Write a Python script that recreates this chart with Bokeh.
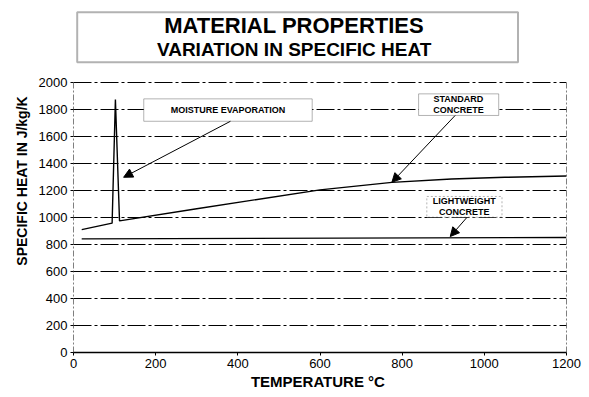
from bokeh.plotting import figure
from bokeh.models import Range1d, FixedTicker, Label, Arrow, NormalHead, BoxAnnotation
from bokeh.embed import file_html
from bokeh.resources import INLINE

# ---- data ----
temp_std = [20, 94, 102, 112, 300, 600, 775, 920, 1050, 1200]
cp_std = [910, 958, 1875, 975, 1065, 1205, 1260, 1285, 1298, 1308]

temp_lw = [20, 1200]
cp_lw = [842, 852]

y_ticks = [0, 200, 400, 600, 800, 1000, 1200, 1400, 1600, 1800, 2000]
x_ticks = [0, 200, 400, 600, 800, 1000, 1200]

title_1 = "MATERIAL PROPERTIES"
title_2 = "VARIATION IN SPECIFIC HEAT"
x_label = "TEMPERATURE  \u00b0C"
y_label = "SPECIFIC HEAT IN J/kg/K"

FONT = "Liberation Sans"

p = figure(width=584, height=393, output_backend="svg", toolbar_location=None,
           x_range=Range1d(0, 1200), y_range=Range1d(0, 2541),
           min_border_left=73, min_border_right=18, min_border_top=9, min_border_bottom=41)
p.outline_line_color = None
p.background_fill_color = "white"
p.border_fill_color = "white"

# axes
p.xaxis.ticker = FixedTicker(ticks=x_ticks)
p.yaxis.ticker = FixedTicker(ticks=y_ticks)
for ax in (p.xaxis[0], p.yaxis[0]):
    ax.major_label_text_font = FONT
    ax.major_label_text_font_size = "13px"
    ax.major_label_text_color = "black"
    ax.axis_label_text_font = FONT
    ax.axis_label_text_font_style = "bold"
    ax.axis_label_text_font_size = "15px"
    ax.axis_label_text_color = "black"
    ax.minor_tick_line_color = None
    ax.major_tick_in = 0
    ax.major_tick_out = 3
    ax.major_tick_line_color = "black"
    ax.major_label_standoff = 3
    ax.axis_label_standoff = 2
p.xaxis.axis_label = x_label
p.yaxis.axis_label = y_label
p.yaxis.axis_label_text_font_size = "14px"
p.yaxis.axis_label_standoff = 6
p.xaxis.axis_line_color = "black"
p.xaxis.axis_line_width = 1.5
p.yaxis.axis_line_color = None

# grid
p.xgrid.grid_line_color = None
p.ygrid.ticker = FixedTicker(ticks=y_ticks[1:])
p.ygrid.grid_line_color = "black"
p.ygrid.grid_line_dash = "18 3 3 3"
p.ygrid.grid_line_width = 1

# left axis line and right border (dash-dot)
p.line([x_ticks[0], x_ticks[0]], [y_ticks[0], y_ticks[-1]], line_color="black",
       line_width=1, line_dash="6 2 2 2")
p.line([x_ticks[-1], x_ticks[-1]], [y_ticks[0], y_ticks[-1]], line_color="black",
       line_width=1, line_dash="6 2 2 2")

# curves
p.line(temp_std, cp_std, line_color="black", line_width=1.4)
p.line(temp_lw, cp_lw, line_color="black", line_width=1.4)

# title box
p.add_layout(BoxAnnotation(left=9, right=1082, bottom=2150, top=2521,
                           fill_color=None, line_color="black", line_width=2))
p.add_layout(Label(x=537, y=2422, text=title_1, text_align="center", text_baseline="middle",
                   text_font=FONT, text_font_style="bold", text_font_size="22px",
                   text_color="black"))
p.add_layout(Label(x=537, y=2244, text=title_2, text_align="center", text_baseline="middle",
                   text_font=FONT, text_font_style="bold", text_font_size="19px",
                   text_color="black"))

# annotation boxes
def note_box(l, r, b, t, dash="solid"):
    p.add_layout(BoxAnnotation(left=l, right=r, bottom=b, top=t, fill_color="white",
                               fill_alpha=1, line_color="black", line_width=1,
                               line_dash=dash))

def note_text(x, y, txt, size="9px"):
    p.add_layout(Label(x=x, y=y, text=txt, text_align="center", text_baseline="middle",
                       text_font=FONT, text_font_style="bold", text_font_size=size,
                       text_color="black"))

def arrow(x0, y0, x1, y1):
    p.add_layout(Arrow(end=NormalHead(size=9, fill_color="black", line_color="black"),
                       x_start=x0, y_start=y0, x_end=x1, y_end=y1,
                       line_color="black", line_width=1))

note_box(171, 581, 1713, 1879)
note_text(376, 1796, "MOISTURE EVAPORATION")
arrow(382, 1713, 122, 1298)

note_box(840, 1035, 1756, 1916)
note_text(937, 1877, "STANDARD")
note_text(937, 1793, "CONCRETE")
arrow(929, 1756, 775, 1261)

note_box(860, 1043, 1002, 1156, dash="2 2")
note_text(951, 1119, "LIGHTWEIGHT")
note_text(951, 1039, "CONCRETE")
arrow(958, 1002, 917, 859)

open("out.html", "w").write(file_html(p, INLINE))
